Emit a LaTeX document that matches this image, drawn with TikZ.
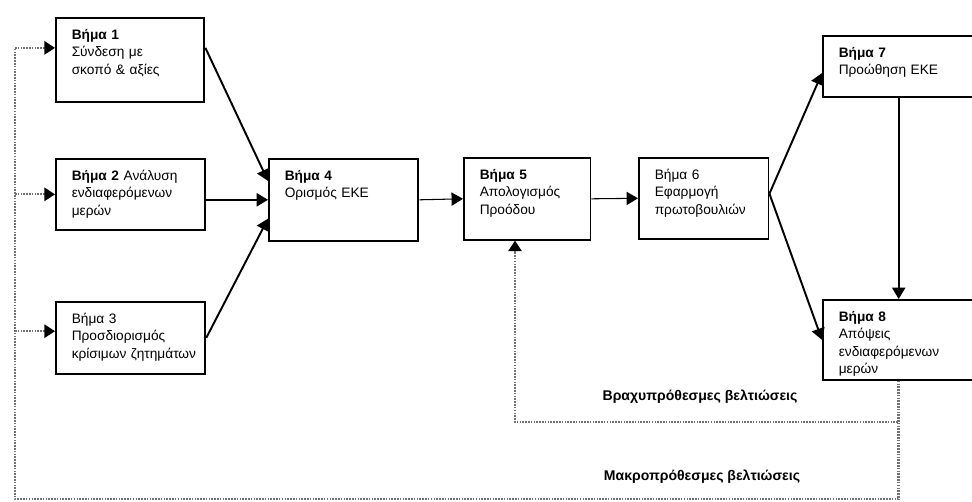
\documentclass[tikz,border=0pt]{standalone}
\usepackage{fontspec}
\setmainfont{Liberation Sans}
\usetikzlibrary{arrows.meta}
\tikzset{
  stepbox/.style={draw, line width=1.1pt, anchor=north west, align=left, text width=#1, inner xsep=9pt, inner ysep=5pt, text height=7pt, font=\fontsize{7.8}{10}\selectfont},
  flow/.style={line width=1.1pt, -{Triangle[length=6.5pt,width=7.5pt]}},
  thinflow/.style={line width=0.6pt, -{Triangle[length=6.5pt,width=7.5pt]}},
  feedback/.style={black!55, line width=1.2pt, dash pattern=on 0.9pt off 0.7pt},
  feedbackarrow/.style={feedback, -{Triangle[length=6pt,width=7.5pt,color=black]}},
  improvement/.style={font=\bfseries\fontsize{8}{10}\selectfont}
}
\begin{document}
\begin{tikzpicture}[x=0.02cm,y=-0.02cm]
\useasboundingbox (0,0) rectangle (972,502);

\node[stepbox=66.5pt, text depth=30.6pt] (b1) at (55,17) {\textbf{Βήμα 1}\\Σύνδεση με\\σκοπό \& αξίες};
\node[stepbox=67pt, text depth=23.3pt] (b2) at (55,158) {\textbf{Βήμα 2} Ανάλυση\\ενδιαφερόμενων\\μερών};
\node[stepbox=67pt, text depth=23.8pt] (b3) at (55,301) {Βήμα 3\\Προσδιορισμός\\κρίσιμων~ζητημάτων};
\node[stepbox=67pt, text depth=29.5pt] (b4) at (268,158) {\textbf{Βήμα 4}\\Ορισμός ΕΚΕ};
\node[stepbox=54pt, text depth=29.5pt] (b5) at (463,157) {\textbf{Βήμα 5}\\Απολογισμός\\Προόδου};
\node[stepbox=55.7pt, text depth=28.9pt] (b6) at (638,157) {Βήμα 6\\Εφαρμογή\\πρωτοβουλιών};
\node[stepbox=68.2pt, text depth=17.6pt] (b7) at (822,35) {\textbf{Βήμα 7}\\Προώθηση ΕΚΕ};
\node[stepbox=68.2pt, text depth=28.4pt] (b8) at (822,299) {\textbf{Βήμα 8}\\Απόψεις\\ενδιαφερόμενων\\μερών};

\draw[flow] (b1.9) -- (b4.166);
\draw[flow] (b2.east |- b4.west) -- (b4.west);
\draw[flow] (b3.east) -- (b4.194);
\draw[thinflow] (b4.east) -- (b5.west);
\draw[thinflow] (b5.east) -- (b6.west);
\draw[flow] (b6.4) -- (b7.185);
\draw[flow] (b6.4) -- (b8.west);
\draw[flow] (b7.south) -- (b8.north);

\coordinate (short) at (515,422);
\coordinate (long) at (15,499);
\draw[feedbackarrow] (b8.south) |- (short) -- (short |- b5.south);
\draw[feedback, line width=1.5pt] (b8.south) |- (long) -- (long |- b1.171);
\draw[feedbackarrow] (long |- b1.171) -- (b1.171);
\draw[feedbackarrow] (long |- b2.west) -- (b2.west);
\draw[feedbackarrow] (long |- b3.175) -- (b3.175);

\node[improvement] (shortlabel) at (700,397) {Βραχυπρόθεσμες βελτιώσεις};
\node[improvement] (longlabel) at (702,477) {Μακροπρόθεσμες βελτιώσεις};
\end{tikzpicture}
\end{document}
